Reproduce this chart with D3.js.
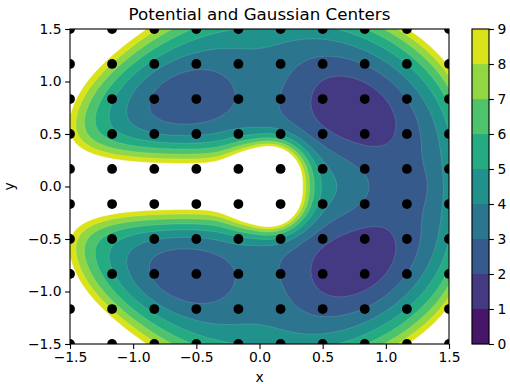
<!DOCTYPE html>
<html>
<head>
<meta charset="utf-8">
<script src="https://cdn.jsdelivr.net/npm/d3@7"></script>
<style>
  body { margin: 0; background: #fff; }
  text { font-family: "DejaVu Sans", sans-serif; fill: #000; }
</style>
</head>
<body>
<svg id="chart" width="510" height="384"></svg>
<script>
// Gaussian centres, 10 x 10 grid
const centerX = [-1.5, -1.167, -0.833, -0.5, -0.167, 0.167, 0.5, 0.833, 1.167, 1.5];
const centerY = [-1.5, -1.167, -0.833, -0.5, -0.167, 0.167, 0.5, 0.833, 1.167, 1.5];

// filled contour levels and tick labels
const levels = [0, 1, 2, 3, 4, 5, 6, 7, 8, 9];
const xTicks = [-1.5, -1.0, -0.5, 0.0, 0.5, 1.0, 1.5];
const yTicks = [-1.5, -1.0, -0.5, 0.0, 0.5, 1.0, 1.5];

// potential
// bowl: [x0, yStretch, base, k, power]
const bowl = [0.1, 1.05, 3.1, 0.185, 6];
// side walls: [edgeX, amplitude, width, side]
const walls = [[-1.5, 0.6, 0.12, -1], [1.5, 0.35, 0.1, 1]];
// wells (subtracted): [x, y, depth, sigmaMajor, sigmaMinor, angleDeg]
const wells = [
  [-0.64, 0.87, 1.4, 0.35, 0.32, 0],
  [-0.64, -0.87, 1.4, 0.35, 0.32, 0],
  [0.76, 0.74, 1.15, 0.52, 0.42, -45],
  [0.76, -0.74, 1.15, 0.52, 0.42, 45],
  [0.76, 0.74, 1.0, 0.36, 0.28, -45],
  [0.76, -0.74, 1.0, 0.36, 0.28, 45],
  [1.2, 0.0, 0.45, 0.15, 0.15, 0]
];
// hills (added): [x, y, height, sigmaX, sigmaY, angleDeg]
const hills = [
  [0.05, 0.95, 0.7, 0.25, 0.4, 0],
  [0.05, -0.95, 0.7, 0.25, 0.4, 0],
  [0.5, 0.0, 1.5, 0.3, 0.3, 0],
  [-1.5, 1.5, 1.5, 0.6, 0.35, 0],
  [-1.5, -1.5, 1.5, 0.6, 0.35, 0]
];
// barrier tongue along y = 0: cutoff [x0, width], profile [height, sigma]
const tongueCut = [-0.1, 0.06];
const tongueProfile = [[8.0, 0.234], [1.0, 0.45]];
// bulb at the tongue tip: [x, height, sigmaX, halfWidthY, powerY]
const bulb = [0.08, 16, 0.17, 0.375, 2.7];

function gauss(g, x, y) {
  const [cx, cy, a, sa, sb, ang] = g;
  const t = ang * Math.PI / 180, c = Math.cos(t), s = Math.sin(t);
  const dx = x - cx, dy = y - cy;
  const u = dx * c + dy * s, v = -dx * s + dy * c;
  return a * Math.exp(-u * u / (2 * sa * sa) - v * v / (2 * sb * sb));
}

function potential(x, y) {
  const [x0, ys, base, k, n] = bowl;
  const r2 = (x - x0) ** 2 + (y / ys) ** 2;
  let v = base + k * Math.pow(r2, n / 2);
  walls.forEach(([ex, a, w, side]) => { v += a * Math.exp(side * (x - ex) / w); });
  wells.forEach(g => { v -= gauss(g, x, y); });
  hills.forEach(g => { v += gauss(g, x, y); });
  const cut = 1 / (1 + Math.exp((x - tongueCut[0]) / tongueCut[1]));
  let ty = 0;
  tongueProfile.forEach(([a, s]) => { ty += a * Math.exp(-y * y / (2 * s * s)); });
  v += cut * ty;
  const [bx, ba, bsx, bhy, bp] = bulb;
  v += ba * Math.exp(-((x - bx) ** 2) / (2 * bsx * bsx)) * Math.exp(-Math.pow(Math.abs(y) / bhy, bp));
  return v;
}

const svg = d3.select('#chart');
const plot = { left: 70, right: 449, top: 29, bottom: 344 };
const x = d3.scaleLinear().domain([-1.5, 1.5]).range([plot.left, plot.right]);
const y = d3.scaleLinear().domain([-1.5, 1.5]).range([plot.bottom, plot.top]);
const colour = i => d3.interpolateViridis((i + 0.5) / 9);

// sample the potential on a grid
const N = 300;
const values = new Float64Array(N * N);
for (let j = 0; j < N; j++) {
  const yy = 1.5 - (j + 0.5) * 3 / N;
  for (let i = 0; i < N; i++) {
    const xx = -1.5 + (i + 0.5) * 3 / N;
    values[j * N + i] = potential(xx, yy);
  }
}

const contours = d3.contours().size([N, N]).thresholds(levels)(values);
const proj = d3.geoTransform({
  point(px, py) { this.stream.point(x(-1.5 + px * 3 / N), y(1.5 - py * 3 / N)); }
});
const path = d3.geoPath(proj);

svg.append('clipPath').attr('id', 'clip')
  .append('rect')
  .attr('x', plot.left).attr('y', plot.top)
  .attr('width', plot.right - plot.left).attr('height', plot.bottom - plot.top);

const body = svg.append('g').attr('clip-path', 'url(#clip)');

body.append('g')
  .selectAll('path')
  .data(contours)
  .join('path')
  .attr('d', path)
  .attr('fill', d => d.value >= 9 ? '#fff' : colour(d.value))
  .attr('stroke', d => d.value >= 9 ? '#fff' : 'rgba(255,255,255,0.25)')
  .attr('stroke-width', 0.5);

// Gaussian centres
const centres = [];
centerY.forEach(cy => centerX.forEach(cx => centres.push([cx, cy])));
body.append('g')
  .selectAll('circle')
  .data(centres)
  .join('circle')
  .attr('cx', d => x(d[0]))
  .attr('cy', d => y(d[1]))
  .attr('r', 4.9)
  .attr('fill', '#000');

// axes
const fmt = d3.format('.1f');
const xAxis = svg.append('g')
  .attr('transform', `translate(0,${plot.bottom})`)
  .call(d3.axisBottom(x).tickValues(xTicks).tickFormat(fmt).tickSize(4.9).tickPadding(3.5));
const yAxis = svg.append('g')
  .attr('transform', `translate(${plot.left},0)`)
  .call(d3.axisLeft(y).tickValues(yTicks).tickFormat(fmt).tickSize(4.9).tickPadding(3.5));
[xAxis, yAxis].forEach(a => {
  a.select('.domain').remove();
  a.selectAll('line').attr('stroke', '#000').attr('stroke-width', 1.1);
  a.selectAll('text').attr('font-size', 13.9).attr('font-family', '"DejaVu Sans", sans-serif');
});

svg.append('rect')
  .attr('x', plot.left).attr('y', plot.top)
  .attr('width', plot.right - plot.left).attr('height', plot.bottom - plot.top)
  .attr('fill', 'none').attr('stroke', '#000').attr('stroke-width', 1.1);

svg.append('text')
  .attr('x', (plot.left + plot.right) / 2).attr('y', 19.5)
  .attr('text-anchor', 'middle').attr('font-size', 16.7)
  .text('Potential and Gaussian Centers');
svg.append('text')
  .attr('x', (plot.left + plot.right) / 2).attr('y', 382)
  .attr('text-anchor', 'middle').attr('font-size', 13.9)
  .text('x');
svg.append('text')
  .attr('transform', `translate(14,${(plot.top + plot.bottom) / 2}) rotate(-90)`)
  .attr('text-anchor', 'middle').attr('font-size', 13.9)
  .text('y');

// colour bar
const bar = { left: 472, right: 489 };
const cy = d3.scaleLinear().domain([0, 9]).range([plot.bottom, plot.top]);
svg.append('g')
  .selectAll('rect')
  .data(levels.slice(0, -1))
  .join('rect')
  .attr('x', bar.left).attr('width', bar.right - bar.left)
  .attr('y', d => cy(d + 1)).attr('height', d => cy(d) - cy(d + 1))
  .attr('fill', d => colour(d))
  .attr('stroke', d => colour(d)).attr('stroke-width', 0.3);
svg.append('rect')
  .attr('x', bar.left).attr('y', plot.top)
  .attr('width', bar.right - bar.left).attr('height', plot.bottom - plot.top)
  .attr('fill', 'none').attr('stroke', '#000').attr('stroke-width', 1.1);
const cAxis = svg.append('g')
  .attr('transform', `translate(${bar.right},0)`)
  .call(d3.axisRight(cy).tickValues(levels).tickFormat(d3.format('d')).tickSize(4.9).tickPadding(3.5));
cAxis.select('.domain').remove();
cAxis.selectAll('line').attr('stroke', '#000').attr('stroke-width', 1.1);
cAxis.selectAll('text').attr('font-size', 13.9).attr('font-family', '"DejaVu Sans", sans-serif');
</script>
</body>
</html>
